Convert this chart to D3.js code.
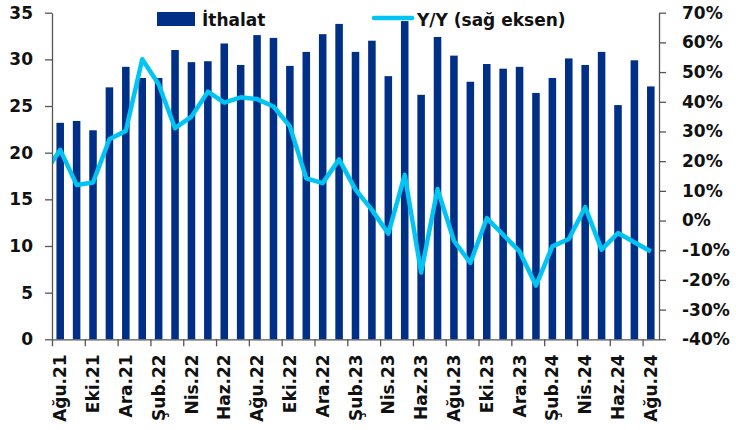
<!DOCTYPE html>
<html>
<head>
<meta charset="utf-8">
<script src="https://cdn.jsdelivr.net/npm/d3@7"></script>
<style>
  body { margin: 0; background: #fff; }
  svg text { font-family: "DejaVu Sans", sans-serif; font-weight: bold; fill: #111; }
</style>
</head>
<body>
<script>
var months = ['Ağu.21','Eyl.21','Eki.21','Kas.21','Ara.21','Oca.22','Şub.22','Mar.22','Nis.22','May.22',
  'Haz.22','Tem.22','Ağu.22','Eyl.22','Eki.22','Kas.22','Ara.22','Oca.23','Şub.23','Mar.23',
  'Nis.23','May.23','Haz.23','Tem.23','Ağu.23','Eyl.23','Eki.23','Kas.23','Ara.23','Oca.24',
  'Şub.24','Mar.24','Nis.24','May.24','Haz.24','Tem.24','Ağu.24'];

// ithalat, milyar $
var imports = [23.2,23.4,22.4,27.0,29.2,28.0,28.0,31.0,29.7,29.8,
  31.7,29.4,32.6,32.3,29.3,30.8,32.7,33.8,30.8,32.0,
  28.2,34.1,26.2,32.4,30.4,27.6,29.5,29.0,29.2,26.4,
  28.0,30.1,29.4,30.8,25.1,29.9,27.1];

// yillik degisim, %
var yoy = [23.8,12.0,12.8,27.4,30.2,54.3,45.9,31.1,35.0,43.4,
  39.7,41.5,40.9,38.4,31.7,14.2,12.6,20.6,10.4,3.6,
  -4.4,15.4,-17.5,10.6,-6.8,-14.3,0.8,-4.8,-10.4,-21.9,
  -8.7,-6.2,4.5,-9.8,-4.2,-7.3,-10.4];
var yoyPrev = 15.6; // Tem.21, kesiliyor

var leftTicks = [0,5,10,15,20,25,30,35];
var rightTicks = [-40,-30,-20,-10,0,10,20,30,40,50,60,70];
var labelMonths = months.filter(function(d,i){ return i % 2 == 0; });

var svgWidth = 736, svgHeight = 430;
var plotLeft = 52, plotRight = 659, plotTop = 12.7, plotBottom = 339.3;

var svg = d3.select('body').append('svg')
    .attr('width', svgWidth)
    .attr('height', svgHeight);

var x = d3.scaleBand().domain(months).range([plotLeft, plotRight])
    .paddingInner(0.54).paddingOuter(0.27);
var xi = d3.scaleLinear().domain([0, months.length]).range([plotLeft, plotRight]);
var y = d3.scaleLinear().domain([0, 35]).range([plotBottom, plotTop]);
var y2 = d3.scaleLinear().domain([-40, 70]).range([plotBottom, plotTop]);

// bars
svg.append('g').selectAll('rect')
    .data(imports)
    .enter()
    .append('rect')
    .attr('x', function(d,i){ return x(months[i]); })
    .attr('y', function(d){ return y(d); })
    .attr('width', x.bandwidth())
    .attr('height', function(d){ return y(0) - y(d); })
    .attr('fill', '#002F87');

// line
var pts = [[x(months[0]) + x.bandwidth()/2 - x.step(), y2(yoyPrev)]];
yoy.forEach(function(d,i){ pts.push([x(months[i]) + x.bandwidth()/2, y2(d)]); });

svg.append('clipPath').attr('id','plot')
  .append('rect').attr('x', plotLeft).attr('y', 0).attr('width', plotRight-plotLeft).attr('height', plotBottom);

svg.append('path')
    .attr('clip-path','url(#plot)')
    .attr('d', d3.line()(pts))
    .attr('fill','none')
    .attr('stroke','#00C4F4')
    .attr('stroke-width', 4.5)
    .attr('stroke-linejoin','round');

// axes
var axisColor = '#555';
var gl = svg.append('g').attr('transform','translate(' + plotLeft + ',0)')
    .call(d3.axisLeft(y).tickValues(leftTicks).tickSize(7).tickSizeOuter(0).tickPadding(12));
var gr = svg.append('g').attr('transform','translate(' + plotRight + ',0)')
    .call(d3.axisRight(y2).tickValues(rightTicks).tickSize(7).tickSizeOuter(0).tickPadding(16)
      .tickFormat(function(d){ return d + '%'; }));
var gt = svg.append('g').attr('transform','translate(0,' + plotBottom + ')')
    .call(d3.axisBottom(xi).tickValues(d3.range(0, months.length, 2)).tickSize(7).tickSizeOuter(0).tickFormat(''));
var gb = svg.append('g').attr('transform','translate(0,' + plotBottom + ')')
    .call(d3.axisBottom(x).tickValues(labelMonths).tickSize(0));
gb.select('.domain').remove();
gb.selectAll('text')
    .attr('transform','rotate(-90)')
    .attr('text-anchor','end')
    .attr('x', -15)
    .attr('y', 0)
    .attr('dy','0.36em');

[gl, gr, gt].forEach(function(g){
  g.selectAll('.domain, line').attr('stroke', axisColor).attr('stroke-width', 1.3);
});
svg.selectAll('.tick text').style('font-size','17px').attr('fill','#111');

// legend
svg.append('rect').attr('x',157).attr('y',12).attr('width',38).attr('height',14).attr('fill','#002F87');
svg.append('text').attr('x',202).attr('y',26).style('font-size','17px').text('İthalat');
svg.append('line').attr('x1',374).attr('x2',412).attr('y1',18).attr('y2',18)
    .attr('stroke','#00C4F4').attr('stroke-width',4.5).attr('stroke-linecap','round');
svg.append('text').attr('x',417).attr('y',26).style('font-size','17px').text('Y/Y (sağ eksen)');
</script>
</body>
</html>
